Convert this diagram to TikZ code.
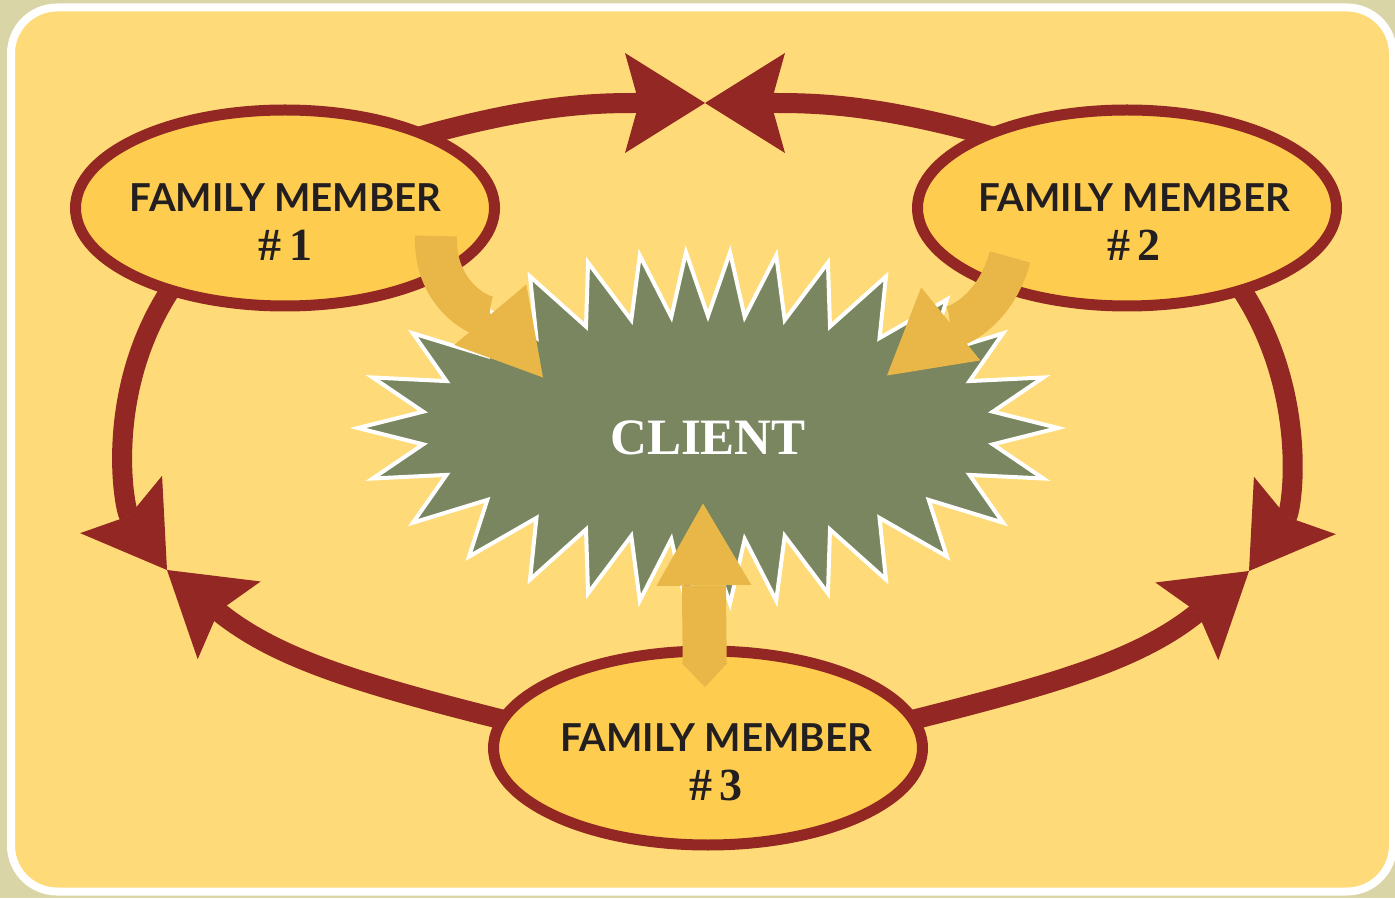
\documentclass[tikz,border=0pt]{standalone}
\usepackage{fontspec}
\setmainfont{Liberation Serif}
\newfontfamily\famfont{Lato}
\usetikzlibrary{arrows.meta,shapes.geometric}

\definecolor{backdrop}{RGB}{217,213,166}
\definecolor{paper}{RGB}{254,219,120}
\definecolor{memberfill}{RGB}{254,204,78}
\definecolor{ringred}{RGB}{146,39,36}
\definecolor{clientgreen}{RGB}{121,134,96}
\definecolor{pushgold}{RGB}{233,183,71}
\definecolor{ink}{RGB}{35,31,32}

\newcommand\numfont{\rmfamily\bfseries\fontsize{46}{49}\selectfont}

\pgfdeclarelayer{back}
\pgfsetlayers{back,main}

\begin{document}
\begin{tikzpicture}[x=1pt, y=1pt,
    member/.style={ellipse, draw=ringred, fill=memberfill, line width=11pt,
      inner sep=0pt, minimum width=419pt, minimum height=196pt},
    memberlabel/.style={align=center, text=ink, inner sep=0pt,
      font=\famfont\bfseries\fontsize{38.5}{49}\selectfont},
    clientlabel/.style={text=white, inner sep=0pt,
      font=\rmfamily\bfseries\fontsize{51}{51}\selectfont},
    clientstar/.style={draw=white, fill=clientgreen, line width=4pt},
    ring/.style={draw=ringred, line width=20pt, shorten <=-25pt,
      -{Stealth[length=80pt, width=100pt, inset=14pt, line width=0pt]}},
    push/.style={draw=pushgold, line width=42pt,
      -{Triangle[length=82pt, width=94pt, line width=0pt]}}]

  \useasboundingbox (0,0) rectangle (1395,898);
  \begin{pgfonlayer}{back}
    \fill[backdrop] (0,0) rectangle (1395,898);
    \draw[white, line width=8pt, fill=paper, rounded corners=46pt]
      (11,6.5) rectangle (1393,890.5);
  \end{pgfonlayer}

  % family members
  \node[member] (m1) at (285,690) {};
  \node[member] (m2) at (1127,690) {};
  \node[member, minimum width=429pt, minimum height=194pt] (m3) at (708,150) {};

  % where the ring arrows meet
  \coordinate (ringtop) at (705,795);
  \coordinate (ringleft) at (167,328);
  \coordinate (ringright) at (1249,327);

  \begin{pgfonlayer}{back}
    \draw[ring] (m1.27) to[out=16, in=180] (ringtop);
    \draw[ring] (m2.153) to[out=164, in=0] (ringtop);
    \draw[ring] (m1.216) to[out=233, in=125, in looseness=0.7] (ringleft);
    \draw[ring] (m3.172) to[out=166, in=-39] (ringleft);
    \draw[ring] (m2.324) to[out=-53, in=55, in looseness=0.7] (ringright);
    \draw[ring] (m3.8) to[out=14, in=219] (ringright);
  \end{pgfonlayer}

  % client burst
  \draw[clientstar, shift={(708,470)}] (0:350 and 176)
    \foreach \u in {0,12,...,348} {
      -- ({\u+6+11.5*sin(2*\u+12)}:288 and 112)
      -- ({\u+12+11.5*sin(2*\u+24)}:350 and 176)
    } -- cycle;
  \node[clientlabel] (client) at (708,460.5) {CLIENT};

  % pressure on the client
  \draw[push] ([shift={(151,-28)}]m1.center) to[out=-92, in=130]
    ([shift={(-165,60)}]client.center);
  \draw[push] ([shift={(-117,-49)}]m2.center) to[out=-105, in=39]
    ([shift={(179,62)}]client.center);
  \draw[push, line width=44pt,
    {Triangle[length=24pt, width=46pt, line width=0pt]}-{Triangle[length=82pt, width=95pt, line width=0pt]}]
    ([shift={(-3,61)}]m3.center) -- ([shift={(-5,-66)}]client.center);

  \node[memberlabel] (t1) at (285.5,675.5) {FAMILY MEMBER\\{\numfont\#\,1}};
  \node[memberlabel] (t2) at (1134,675.5) {FAMILY MEMBER\\{\numfont\#\,2}};
  \node[memberlabel] (t3) at (716,135.5) {FAMILY MEMBER\\{\numfont\#\,3}};
\end{tikzpicture}
\end{document}
